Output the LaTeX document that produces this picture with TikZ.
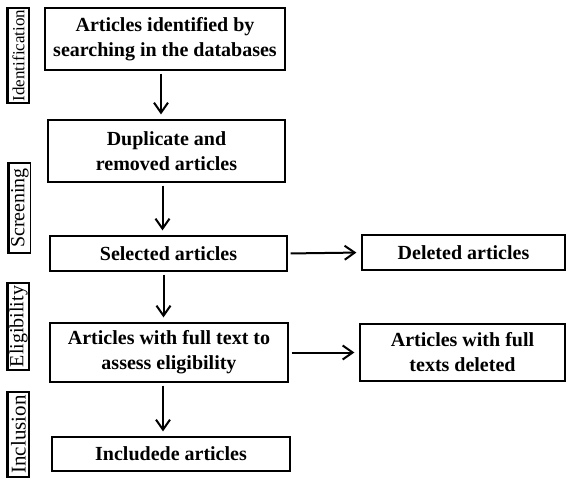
\documentclass[tikz,border=0pt]{standalone}
\usepackage{fontspec}
\setmainfont{Liberation Serif}
\usetikzlibrary{arrows.meta}

\begin{document}
\begin{tikzpicture}[x=1pt,y=-1pt,
  box/.style={draw,line width=1.2pt,align=center,inner sep=0pt,
    font=\fontsize{20}{25}\selectfont\bfseries},
  phase/.style={draw,line width=1.3pt,rotate=90,inner sep=0pt,
    minimum height=21pt,font=\fontsize{#1}{#1}\selectfont},
  arr/.style={line width=2pt,shorten <=3pt,shorten >=5pt,
    -{Straight Barb[length=10pt,width=14pt,line width=2pt]}}]
  \useasboundingbox (0,0) rectangle (566,479);
  % main column
  %boxes
  \node[box,minimum width=240pt,minimum height=62pt] (idf) at (165,39)
    {Articles identified by\\searching in the databases};
  \node[box,minimum width=237pt,minimum height=62pt] (dup) at (166.5,151)
    {Duplicate and\\removed articles};
  \node[box,minimum width=237pt,minimum height=35pt] (sel) at (168.5,253.5)
    {Selected articles};
  \node[box,minimum width=238pt,minimum height=59pt] (full) at (169,352.5)
    {Articles with full text to\\assess eligibility};
  \node[box,minimum width=238pt,minimum height=34pt] (inc) at (171,454)
    {Includede articles};
  %arrows
  \draw[arr] ([xshift=-4pt]idf.south) -- ([xshift=-4pt]idf.south |- dup.north);
  \draw[arr] ([xshift=-4pt]dup.south) -- ([xshift=-4pt]dup.south |- sel.north);
  \draw[arr] ([xshift=-5pt]sel.south) -- ([xshift=-5pt]sel.south |- full.north);
  \draw[arr] ([xshift=-6pt]full.south) -- ([xshift=-6pt]full.south |- inc.north);

  % right column
  %boxes
  \node[box,minimum width=203pt,minimum height=35pt] (del) at (463.5,252.5)
    {Deleted articles};
  \node[box,minimum width=205pt,minimum height=57pt] (fdel) at (462.5,352.5)
    {Articles with full\\texts deleted};
  %arrows
  \draw[arr] (sel.east) -- (del.west);
  \draw[arr] (full.east) -- (fdel.west);

  % left column
  %labels
  \node[phase=17,minimum width=95pt] (pid) at (18.5,55.5) {Identification};
  \node[phase=20,minimum width=90pt] (psc) at (20,208) {Screening};
  \node[phase=20,minimum width=87pt] (pel) at (18.5,326.5) {Eligibility};
  \node[phase=21,minimum width=85pt] (pin) at (18.5,434.5) {Inclusion};
  %thick edges
  \foreach \p in {pid,psc,pel,pin}
    \draw[line width=3.2pt] (\p.north west) -- (\p.north east);
\end{tikzpicture}
\end{document}
